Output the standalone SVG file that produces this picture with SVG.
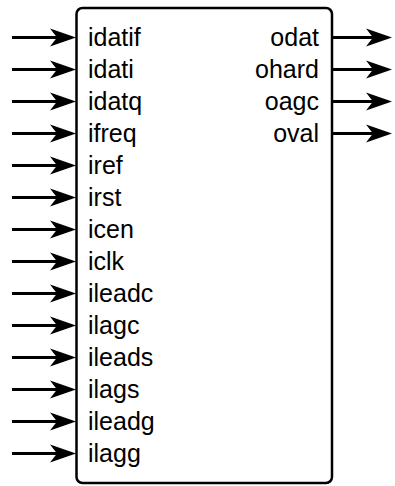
<svg xmlns="http://www.w3.org/2000/svg" xmlns:xlink="http://www.w3.org/1999/xlink" width="395" height="486" viewBox="0 0 395 486">
<defs>
<path id="hd" d="M0,0 L-26,-9 L-19,0 L-26,9 Z" fill="#000"/>
<style>
.lbl{font-family:"Liberation Sans",Arial,sans-serif;font-size:25px;fill:#000}
.r{text-anchor:end}
.w{stroke:#000;stroke-width:3;fill:none}
</style>
</defs>
<rect width="395" height="486" fill="#fff"/>
<g id="block">
<rect x="76.5" y="8" width="255.5" height="475" rx="6" fill="#fff" stroke="#000" stroke-width="2.5"/>
<text class="lbl" x="88" y="46">idatif</text>
<text class="lbl" x="88" y="78">idati</text>
<text class="lbl" x="88" y="110">idatq</text>
<text class="lbl" x="88" y="142">ifreq</text>
<text class="lbl" x="88" y="174">iref</text>
<text class="lbl" x="88" y="206">irst</text>
<text class="lbl" x="88" y="238">icen</text>
<text class="lbl" x="88" y="270">iclk</text>
<text class="lbl" x="88" y="302">ileadc</text>
<text class="lbl" x="88" y="334">ilagc</text>
<text class="lbl" x="88" y="366">ileads</text>
<text class="lbl" x="88" y="398">ilags</text>
<text class="lbl" x="88" y="430">ileadg</text>
<text class="lbl" x="88" y="462">ilagg</text>
<text class="lbl r" x="319" y="46">odat</text>
<text class="lbl r" x="319" y="78">ohard</text>
<text class="lbl r" x="319" y="110">oagc</text>
<text class="lbl r" x="319" y="142">oval</text>
</g>
<g id="connectors">
<path class="w" d="M12,37.5H58M12,69.5H58M12,101.5H58M12,133.5H58M12,165.5H58M12,197.5H58M12,229.5H58M12,261.5H58M12,293.5H58M12,325.5H58M12,357.5H58M12,389.5H58M12,421.5H58M12,453.5H58"/>
<path class="w" d="M332,37.5H374M332,69.5H374M332,101.5H374M332,133.5H374"/>
<use xlink:href="#hd" x="76" y="37.5"/>
<use xlink:href="#hd" x="76" y="69.5"/>
<use xlink:href="#hd" x="76" y="101.5"/>
<use xlink:href="#hd" x="76" y="133.5"/>
<use xlink:href="#hd" x="76" y="165.5"/>
<use xlink:href="#hd" x="76" y="197.5"/>
<use xlink:href="#hd" x="76" y="229.5"/>
<use xlink:href="#hd" x="76" y="261.5"/>
<use xlink:href="#hd" x="76" y="293.5"/>
<use xlink:href="#hd" x="76" y="325.5"/>
<use xlink:href="#hd" x="76" y="357.5"/>
<use xlink:href="#hd" x="76" y="389.5"/>
<use xlink:href="#hd" x="76" y="421.5"/>
<use xlink:href="#hd" x="76" y="453.5"/>
<use xlink:href="#hd" x="392" y="37.5"/>
<use xlink:href="#hd" x="392" y="69.5"/>
<use xlink:href="#hd" x="392" y="101.5"/>
<use xlink:href="#hd" x="392" y="133.5"/>
</g>
</svg>
